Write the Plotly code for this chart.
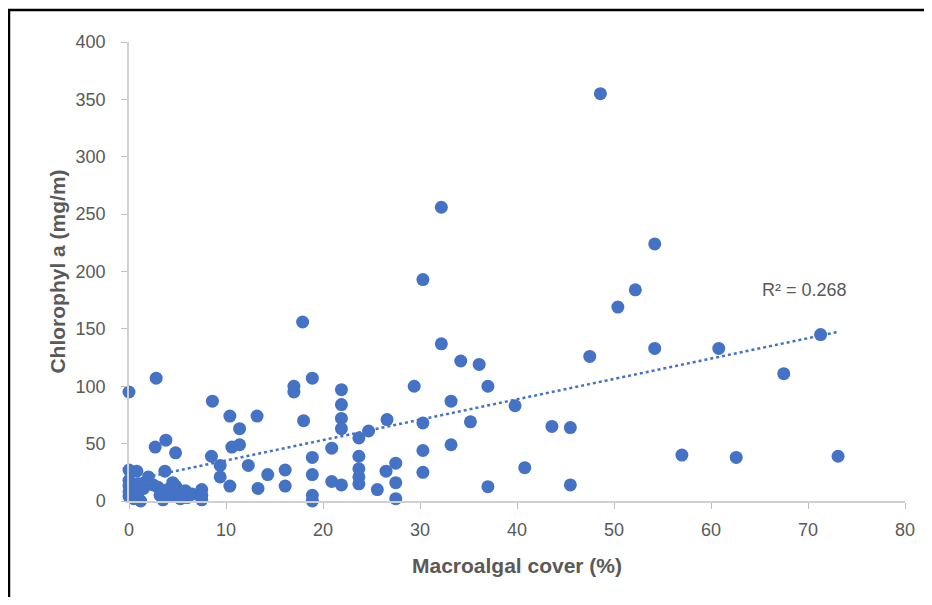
import plotly.graph_objects as go
import numpy as np

# Macroalgal cover (%) vs chlorophyll a
cover = [
    48.6, 32.2, 54.2, 30.3, 52.2, 50.4, 17.9, 71.3, 32.2, 54.2,
    60.8, 47.5, 34.2, 36.1, 67.5, 29.4, 37.0, 33.2, 39.8, 26.6,
    30.3, 35.2, 43.6, 45.5, 33.2, 30.3, 27.5, 26.5, 30.3, 27.5,
    25.6, 27.5, 40.8, 37.0, 45.5, 57.0, 62.6, 73.1,
    18.9, 17.0, 17.0, 13.2, 21.9, 21.9, 21.9, 21.9, 18.0, 24.7,
    23.7, 20.9, 18.9, 23.7, 14.3, 16.1, 16.1, 13.3, 18.9, 18.9,
    18.9, 20.9, 21.9, 23.7, 23.7, 23.7,
    0.0, 2.8, 8.6, 10.4, 11.4, 10.6, 11.4, 2.7, 3.8, 4.8,
    8.5, 9.4, 12.3, 9.4, 10.4, 3.7, 7.5, 7.5,
    0.0, 0.8, 0.0, 0.0, 0.0, 0.0, 0.5, 1.0, 1.0, 1.2,
    2.0, 1.5, 3.0, 3.2, 3.5, 4.0, 4.2, 4.8, 5.0, 5.3,
    5.8, 6.0, 6.5, 2.5, 4.5, 7.5,
]
chl = [
    355, 256, 224, 193, 184, 169, 156, 145, 137, 133,
    133, 126, 122, 119, 111, 100, 100, 87, 83, 71,
    68, 69, 65, 64, 49, 44, 33, 26, 25, 16,
    10, 2, 29, 12.5, 14, 40, 38, 39,
    107, 100, 95, 74, 97, 84, 72, 63, 70, 61,
    55, 46, 38, 39, 23, 27, 13, 11, 23, 5,
    0, 17, 14, 28, 21, 15,
    95, 107, 87, 74, 63, 47, 49, 47, 53, 42,
    39, 31, 31, 21, 13, 26, 10, 1,
    27, 26, 18, 13, 8, 4, 2, 15, 8, 0,
    21, 11, 12, 5, 1, 10, 4, 13, 7, 2,
    9, 3, 6, 14, 16, 5,
]
r2_label = "R² = 0.268"

x_ticks = [0, 10, 20, 30, 40, 50, 60, 70, 80]
y_ticks = [0, 50, 100, 150, 200, 250, 300, 350, 400]

blue = "#4472C4"
grey = "#595959"
font_main = "Liberation Sans, Arial, sans-serif"

# linear trendline from the data
b, a = np.polyfit(cover, chl, 1)
tx = np.array([min(cover), max(cover)])
ty = a + b * tx

fig = go.Figure()
fig.add_trace(go.Scatter(x=tx, y=ty, mode="lines",
                         line=dict(color=blue, width=2.5, dash="dot"),
                         hoverinfo="skip", showlegend=False))
fig.add_trace(go.Scatter(x=cover, y=chl, mode="markers",
                         marker=dict(color=blue, size=13),
                         cliponaxis=False, showlegend=False))

fig.add_annotation(x=69.6, y=184, text=r2_label, showarrow=False,
                   font=dict(size=18, color=grey, family=font_main))

# outer frame of the original figure (cropped on right/bottom)
fig.add_shape(type="rect", xref="paper", yref="paper",
              x0=(9 - 129) / 776, x1=1.5, y0=-0.5, y1=(501 - 10) / 459,
              line=dict(color="black", width=2.5), layer="above")

# page body adds 8px on every side, so shrink the figure to avoid scrollbars
fig.update_layout(
    width=916, height=589,
    margin=dict(l=121, r=19, t=34, b=96),
    paper_bgcolor="white", plot_bgcolor="white",
    font=dict(family=font_main, color=grey),
)
fig.update_xaxes(range=[0, 80], tickvals=x_ticks, showgrid=False, zeroline=False,
                 automargin=False,
                 showline=True, linecolor="#D0D0D0", linewidth=1.5,
                 ticks="outside", ticklen=6, tickcolor="#BFBFBF",
                 ticklabelstandoff=6,
                 tickfont=dict(size=18, color=grey),
                 title=dict(text="<b>Macroalgal cover (%)</b>", standoff=19,
                            font=dict(size=21, color=grey)))
fig.update_yaxes(range=[0, 400], tickvals=y_ticks, showgrid=False, zeroline=False,
                 automargin=False,
                 showline=True, linecolor="#D0D0D0", linewidth=1.5,
                 ticks="outside", ticklen=6, tickcolor="#BFBFBF",
                 ticklabelstandoff=12,
                 tickfont=dict(size=18, color=grey),
                 title=dict(text="<b>Chlorophyl a (mg/m)</b>", standoff=4,
                            font=dict(size=21, color=grey)))

fig.write_html("out.html")
